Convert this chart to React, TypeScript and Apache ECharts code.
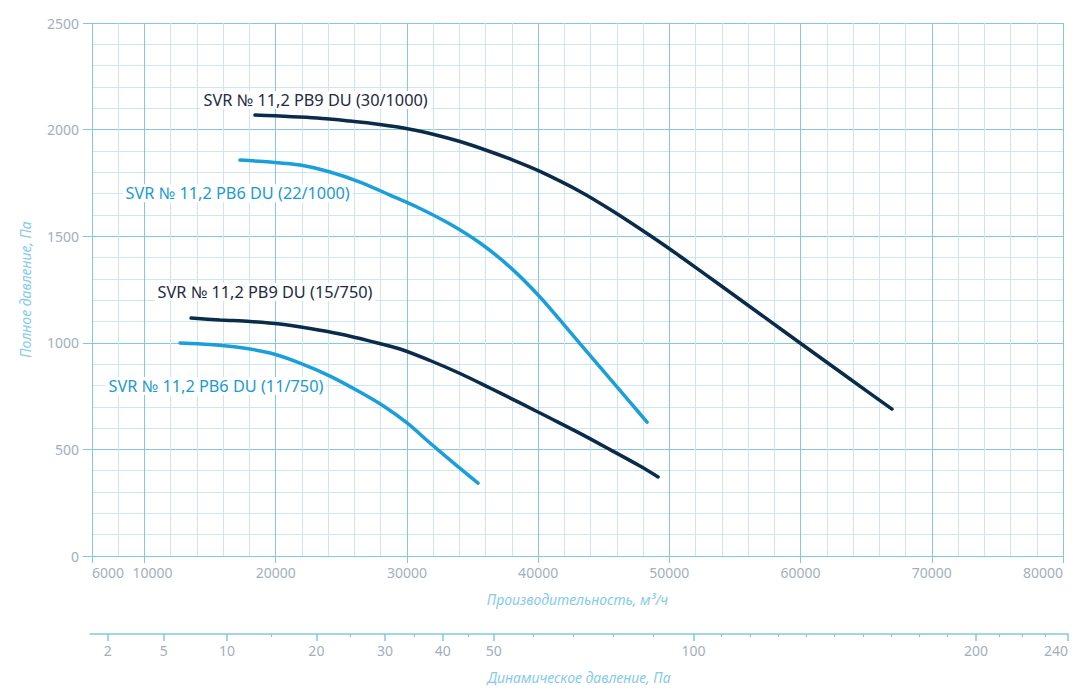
import { useEffect, useRef } from "react";
import * as echarts from "echarts";

// flow axis (m³/h)
const flowMin = 6000;
const flowMax = 80000;
const flowLabels = [6000, 10000, 20000, 30000, 40000, 50000, 60000, 70000, 80000];

// total pressure axis (Pa)
const pressureMax = 2500;
const pressureLabels = [0, 500, 1000, 1500, 2000, 2500];

// dynamic pressure axis (Pa), drawn on a sqrt scale
const dynLabels = [2, 5, 10, 20, 30, 40, 50, 100, 200, 240];
const dynMinorPerGap = [0, 0, 1, 1, 1, 1, 4, 9, 3];
const dynAxisMin = 1.153;

// fan curves [flow, pressure]
const pb9_30 = [
  [18420, 2068], [23150, 2054], [25660, 2040], [27950, 2024], [30240, 2002],
  [32140, 1976], [34050, 1944], [36100, 1902], [38080, 1857], [40140, 1804],
  [43190, 1710], [45710, 1617], [48530, 1503], [50810, 1406], [53860, 1271],
  [56910, 1135], [59960, 999], [63770, 830], [66970, 689],
];
const pb6_22 = [
  [17280, 1857], [19570, 1848], [21850, 1834], [24140, 1801], [26420, 1754],
  [28710, 1693], [31000, 1630], [33280, 1557], [35570, 1468], [37860, 1355],
  [40140, 1215], [42430, 1051], [44720, 886], [47000, 722], [48300, 628],
];
const pb9_15 = [
  [13550, 1116], [15760, 1107], [18040, 1100], [20330, 1088], [22610, 1067],
  [24900, 1041], [27190, 1008], [29470, 971], [31760, 917], [34050, 856],
  [36330, 788], [38620, 718], [40900, 647], [43190, 575], [45480, 499],
  [47760, 422], [49140, 371],
];
const pb6_11 = [
  [12710, 999], [14990, 992], [17280, 978], [19570, 952], [21850, 905],
  [24140, 844], [26420, 769], [28330, 699], [30010, 624], [31760, 530],
  [33660, 431], [35420, 342],
];

const curveNames = [
  "SVR № 11,2 PB9 DU (30/1000)",
  "SVR № 11,2 PB6 DU (22/1000)",
  "SVR № 11,2 PB9 DU (15/750)",
  "SVR № 11,2 PB6 DU (11/750)",
];
const curveData = [pb9_30, pb6_22, pb9_15, pb6_11];
// where each curve's caption starts (left edge, flow / pressure)
const captionAt = [
  [14230, 2139],
  [8290, 1702],
  [10730, 1238],
  [6990, 797],
];

const DARK = "#0b2b4b";
const BLUE = "#1a9fdb";
const curveColors = [DARK, BLUE, DARK, BLUE];
const textColors = ["#1c2a44", "#1a9ad7", "#1c2a44", "#1a9ad7"];

const MAJOR = "#86c6e1";
const MINOR = "#cce7f3";
const LABEL = "#a3afbc";
const NAME = "#86cbeb";
const FONT = "Noto Sans";

export default function App() {
  const ref = useRef<HTMLDivElement>(null);

  useEffect(() => {
    document.body.style.margin = "0";
    if (!ref.current) return;
    const chart = echarts.init(ref.current, null, { renderer: "svg" });

    const dynMajorPos = dynLabels.map((v) => Math.sqrt(v));
    const dynMinorPos: number[] = [];
    dynMinorPerGap.forEach((n, i) => {
      const a = dynMajorPos[i];
      const b = dynMajorPos[i + 1];
      for (let k = 1; k <= n; k++) dynMinorPos.push(a + ((b - a) * k) / (n + 1));
    });

    const labelStyle = { color: LABEL, fontSize: 14, fontFamily: FONT };
    const nameStyle = { color: NAME, fontSize: 14, fontFamily: FONT, fontStyle: "italic" as const };

    chart.setOption({
      animation: false,
      grid: [
        { left: 92, right: 27, top: 23, bottom: 143 },
        { left: 90, right: 22, top: 600, bottom: 65 },
      ],
      xAxis: [
        {
          type: "value",
          gridIndex: 0,
          position: "bottom",
          min: flowMin,
          max: flowMax,
          interval: 2000,
          axisLine: { show: false },
          axisTick: { show: false },
          axisLabel: { show: false },
          splitLine: { show: true, lineStyle: { color: MINOR, width: 1 } },
        },
        {
          type: "value",
          gridIndex: 0,
          position: "bottom",
          min: flowMin,
          max: flowMax,
          name: "Производительность, м³/ч",
          nameLocation: "middle",
          nameGap: 36,
          nameTextStyle: nameStyle,
          axisLine: { show: true, lineStyle: { color: MAJOR, width: 1 } },
          axisTick: { show: true, length: 7, customValues: flowLabels, lineStyle: { color: MAJOR } },
          axisLabel: {
            ...labelStyle,
            margin: 9,
            customValues: flowLabels,
            alignMinLabel: "left",
            alignMaxLabel: "right",
            formatter: (v: number) => (v === 10000 ? "{s|10000}" : String(v)),
            rich: { s: { ...labelStyle, padding: [0, 0, 0, 16] } },
          },
          splitLine: { show: true, lineStyle: { color: MAJOR, width: 1 } },
        },
        {
          type: "value",
          gridIndex: 1,
          position: "bottom",
          min: dynAxisMin,
          max: Math.sqrt(240),
          name: "Динамическое давление, Па",
          nameLocation: "middle",
          nameGap: 36,
          nameTextStyle: nameStyle,
          axisLine: { show: true, lineStyle: { color: MAJOR, width: 1.5 } },
          axisTick: { show: true, length: 7, customValues: dynMajorPos, lineStyle: { color: MAJOR, width: 1.5 } },
          axisLabel: {
            ...labelStyle,
            margin: 9,
            customValues: dynMajorPos,
            alignMaxLabel: "right",
            formatter: (v: number) => String(Math.round(v * v)),
          },
          splitLine: { show: false },
        },
        {
          type: "value",
          gridIndex: 1,
          position: "bottom",
          min: dynAxisMin,
          max: Math.sqrt(240),
          axisLine: { show: false },
          axisTick: { show: true, length: 3, customValues: dynMinorPos, lineStyle: { color: MAJOR, width: 1.2 } },
          axisLabel: { show: false },
          splitLine: { show: false },
        },
      ],
      yAxis: [
        {
          type: "value",
          gridIndex: 0,
          min: 0,
          max: pressureMax,
          interval: 100,
          axisLine: { show: false },
          axisTick: { show: false },
          axisLabel: { show: false },
          splitLine: { show: true, lineStyle: { color: MINOR, width: 1 } },
        },
        {
          type: "value",
          gridIndex: 0,
          position: "left",
          min: 0,
          max: pressureMax,
          name: "Полное давление, Па",
          nameLocation: "middle",
          nameGap: 60,
          nameTextStyle: nameStyle,
          axisLine: { show: true, lineStyle: { color: MAJOR, width: 1 } },
          axisTick: { show: true, length: 9, customValues: pressureLabels, lineStyle: { color: MAJOR } },
          axisLabel: {
            ...labelStyle,
            margin: 13,
            customValues: pressureLabels,
            formatter: (v: number) => String(v),
          },
          splitLine: { show: true, lineStyle: { color: MAJOR, width: 1 } },
        },
        { type: "value", gridIndex: 1, show: false, min: 0, max: 1 },
      ],
      series: curveData.map((data, i) => ({
        type: "line",
        name: curveNames[i],
        xAxisIndex: 0,
        yAxisIndex: 0,
        data,
        smooth: 0.3,
        showSymbol: false,
        symbol: "none",
        lineStyle: { color: curveColors[i], width: 3.5, cap: "round" },
        markPoint: {
          symbol: "circle",
          symbolSize: 1,
          itemStyle: { color: "rgba(0,0,0,0)" },
          data: [
            {
              coord: captionAt[i],
              label: {
                show: true,
                position: "right",
                distance: 0,
                formatter: curveNames[i],
                color: textColors[i],
                fontSize: 16.3,
                fontFamily: FONT,
                backgroundColor: "#ffffff",
                padding: [1, 3],
              },
            },
          ],
        },
      })),
    });

    return () => chart.dispose();
  }, []);

  return <div ref={ref} style={{ width: 1090, height: 699 }} />;
}
